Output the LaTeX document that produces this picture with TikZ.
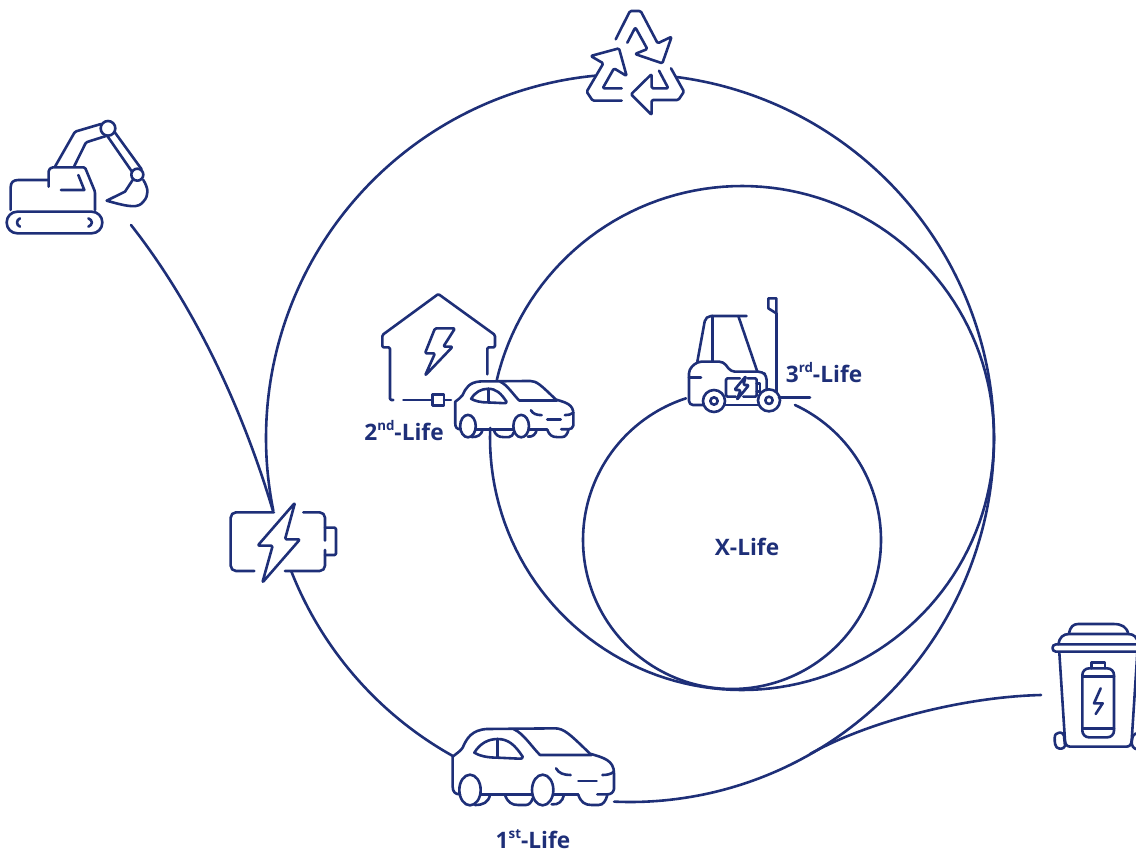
\documentclass[tikz,border=0pt]{standalone}
\usepackage{fontspec}
\setmainfont{Open Sans}
\definecolor{ink}{HTML}{1E2F78}
\tikzset{
  ln/.style={draw=ink,line width=1.95pt,line join=round,line cap=round},
  ic/.style={ln,rounded corners=1pt},
  lab/.style={text=ink,font=\fontsize{17}{18}\selectfont\bfseries,inner sep=0pt,anchor=center},
  z3/.style={x=0.25pt,y=-0.25pt}
}
\newcommand\ordsup[1]{\raisebox{0.4em}{\fontsize{10}{11}\selectfont #1}}
\newcommand\ringarc[5]{\draw[ln] plot[domain=#4:#5,samples=160] ({#1+#3*cos(\x)},{#2+#3*sin(\x)});}
\newcommand\carshape{%
  \draw[ln] (60,238) .. controls (45,238) and (38,230) .. (38,215) -- (38,125) .. controls (50,115) and (62,108) .. (68,98) .. controls (80,70) and (95,45) .. (140,42) -- (345,40) .. controls (372,40) and (390,58) .. (450,116) .. controls (490,128) and (522,135) .. (522,175) -- (522,222) .. controls (520,233) and (512,238) .. (502,238) -- (472,238);
  \draw[ln] (122,238) -- (278,238) (340,238) -- (415,238);
  \draw[ln] (90,225) ellipse [x radius=32,y radius=46];
  \draw[ln] (308,225) ellipse [x radius=32,y radius=46];
  \draw[ln] (150,240) .. controls (145,262) and (130,270) .. (105,270);
  \draw[ln] (195,240) .. controls (203,262) and (215,270) .. (235,270) -- (258,270) .. controls (268,270) and (275,260) .. (278,250);
  \draw[ln] (335,268) .. controls (355,270) and (367,260) .. (372,240);
  \draw[ln] (415,240) .. controls (423,262) and (435,270) .. (455,270) -- (475,270) .. controls (490,270) and (497,258) .. (502,240);
  \draw[ln] (103,113) .. controls (120,85) and (145,72) .. (173,72) .. controls (205,72) and (225,90) .. (248,125) .. controls (248,130) and (245,132) .. (238,131) -- (173,128) .. controls (140,128) and (118,122) .. (103,113) -- cycle;
  \draw[ln] (173,72) -- (173,128);
  \draw[ln] (222,43) .. controls (250,55) and (275,95) .. (300,120) -- (455,120);
  \draw[ln] (348,160) .. controls (356,175) and (372,180) .. (392,180);
  \draw[ln] (415,198) -- (470,198);
  \draw[ln] (487,180) .. controls (500,180) and (512,178) .. (522,170);
}
\begin{document}
\begin{tikzpicture}[x=0.75pt,y=-0.75pt]
\useasboundingbox (0,0) rectangle (1136,851);

% outer ring
\ringarc{630}{438}{364}{-82.7}{92.5}
\ringarc{630}{438}{364}{119.2}{158.5}
\ringarc{630}{438}{364}{168.5}{264.5}
% middle ring
\ringarc{742}{438}{252}{193.3}{542.3}
% inner ring
\ringarc{732}{540}{149}{-65}{252}

% feeders
\coordinate (digStart) at (131,225);
\coordinate (batJoin) at (273,511);
\coordinate (ringTap) at (810,754);
\coordinate (binIn) at (1041,695);
\draw[ln] (digStart) .. controls (190,300) and (240,400) .. (batJoin);
\draw[ln] (ringTap) .. controls (865,723) and (960,697) .. (binIn);

% recycling
\begin{scope}[shift={(570,0)},z3]
  \draw[ic] (137,118) -- (180,33) -- (212,33) -- (263,130) -- (305,110) -- (277,190) -- (195,162) -- (232,147) -- (196,82) -- (172,128);
  \draw[ic] (155,265) -- (98,265) -- (132,205) -- (170,228) -- (147,145) -- (62,168) -- (100,190) -- (50,275) -- (68,302) -- (155,302);
  \draw[ic] (303,205) -- (342,275) -- (325,300) -- (245,300) -- (245,345) -- (183,283) -- (245,222) -- (245,265) -- (295,265) -- (267,212);
\end{scope}

% excavator
\begin{scope}[shift={(0,110)},z3]
  \draw[ln] (32,300) -- (32,232) .. controls (32,217) and (40,210) .. (55,210) -- (145,210);
  \draw[ln,rounded corners=8pt] (20,305) rectangle (307,370);
  \draw[ic] (146,230) -- (146,180) -- (155,172) -- (255,172) -- (285,245) -- (285,300);
  \draw[ln] (235,195) -- (253,240) -- (183,240);
  \draw[ln] (60,325) .. controls (48,330) and (48,345) .. (60,350);
  \draw[ln] (265,325) .. controls (279,330) and (279,345) .. (265,350);
  \draw[ic] (165,170) -- (225,65) -- (303,42);
  \draw[ic] (222,170) -- (258,97) -- (318,78);
  \draw[ln] (324,55) circle [radius=22];
  \draw[ln] (343,65) -- (425,178);
  \draw[ln] (322,78) -- (396,185);
  \draw[ln] (412,194) circle [radius=18];
  \draw[ln] (430,210) .. controls (445,235) and (448,255) .. (430,275) .. controls (415,295) and (390,292) .. (320,272) -- (375,245) -- (398,210);
\end{scope}

% house
\begin{scope}[shift={(360,285)},z3]
  \draw[ic] (100,345) -- (90,345) -- (90,187) -- (67,187) -- (67,150) -- (235,27) -- (405,150) -- (405,187) -- (382,187) -- (382,268);
  \draw[ic] (225,130) -- (285,130) -- (250,185) -- (278,185) -- (195,272) -- (225,205) -- (195,205) -- cycle;
  \draw[ln] (130,345) -- (218,345);
  \draw[ln] (218,328) rectangle (252,362);
  \draw[ln] (252,345) -- (273,345);
\end{scope}

% second car
\begin{scope}[shift={(446,371.2)},x=0.183pt,y=-0.183pt]
  \carshape
\end{scope}

% forklift
\begin{scope}[shift={(675,290)},z3]
  \draw[ln] (304,70) -- (304,305);
  \draw[ln] (280,25) -- (304,25) -- (304,70) -- (280,55) -- cycle;
  \draw[ic,rounded corners=4pt] (215,78) -- (92,78) -- (67,215);
  \draw[ln] (113,78) -- (113,215);
  \draw[ln] (190,78) -- (247,245);
  \draw[ic,rounded corners=3pt] (85,345) -- (42,345) -- (42,238) -- (67,215) -- (145,215) -- (168,245) -- (262,245) -- (275,258) -- (275,300);
  \draw[ln] (148,345) -- (250,345);
  \draw[ln] (42,262) -- (78,262);
  \draw[ln] (312,323) -- (405,323);
  \draw[ln] (117,333) circle [radius=33];
  \draw[ln] (117,333) circle [radius=11];
  \draw[ln] (282,331) circle [radius=33];
  \draw[ln] (282,331) circle [radius=11];
  \draw[ic] (195,265) -- (153,265) -- (153,320) -- (182,320);
  \draw[ic] (218,265) -- (245,265) -- (245,320) -- (205,320);
  \draw[ln] (245,280) -- (255,280) -- (255,305) -- (245,305);
  \draw[ic] (213,258) -- (178,300) -- (197,300) -- (185,330) -- (222,285) -- (205,285) -- cycle;
\end{scope}

% battery
\begin{scope}[shift={(220,490)},z3]
  \draw[ic,rounded corners=4pt] (162,67) -- (32,67) -- (32,243) -- (103,243);
  \draw[ic,rounded corners=4pt] (250,67) -- (315,67) -- (315,152);
  \draw[ic,rounded corners=4pt] (315,180) -- (315,243) -- (195,243);
  \draw[ic] (315,113) -- (348,113) -- (348,195) -- (315,195);
  \draw[ic] (225,38) -- (113,167) -- (158,167) -- (127,278) -- (240,148) -- (195,148) -- cycle;
\end{scope}

% first car
\begin{scope}[shift={(440,715)},z3]
  \carshape
\end{scope}

% bin
\begin{scope}
\clip (1000,600) rectangle (1136,780);
\begin{scope}[shift={(1030,610)},z3]
  \draw[ln] (117,72) .. controls (120,50) and (130,42) .. (145,42) -- (250,42) .. controls (275,42) and (290,50) .. (295,72);
  \draw[ln] (85,103) .. controls (88,82) and (100,72) .. (117,72) -- (295,72) .. controls (312,72) and (322,82) .. (325,103);
  \draw[ln] (340,103) -- (78,103) .. controls (64,103) and (64,125) .. (78,125) -- (340,125);
  \draw[ln] (88,128) -- (105,392) .. controls (106,405) and (112,410) .. (122,410) -- (288,410) .. controls (298,410) and (304,405) .. (305,392) -- (322,128);
  \draw[ln] (87,368) -- (92,368) .. controls (98,368) and (100,372) .. (102,378) -- (105,408) .. controls (100,418) and (88,418) .. (80,412) .. controls (76,408) and (74,400) .. (74,385) .. controls (74,375) and (78,368) .. (87,368);
  \draw[ln] (318,370) .. controls (308,375) and (305,385) .. (305,395) .. controls (305,408) and (310,416) .. (322,418);
  \draw[ln,rounded corners=5pt] (157,175) rectangle (252,382);
  \draw[ln] (157,200) -- (252,200) (157,355) -- (252,355);
  \draw[ln] (185,175) -- (185,157) -- (225,157) -- (225,175);
  \draw[ln] (212,235) -- (192,280) -- (218,280) -- (197,312);
\end{scope}
\end{scope}

% labels
\node[lab] (xlife) at (747,547) {X-Life};
\node[lab,anchor=base] (life1) at (533,848) {1\ordsup{st}-Life};
\node[lab,anchor=base] (life2) at (404,440) {2\ordsup{nd}-Life};
\node[lab,anchor=base] (life3) at (824,382) {3\ordsup{rd}-Life};
\end{tikzpicture}
\end{document}
